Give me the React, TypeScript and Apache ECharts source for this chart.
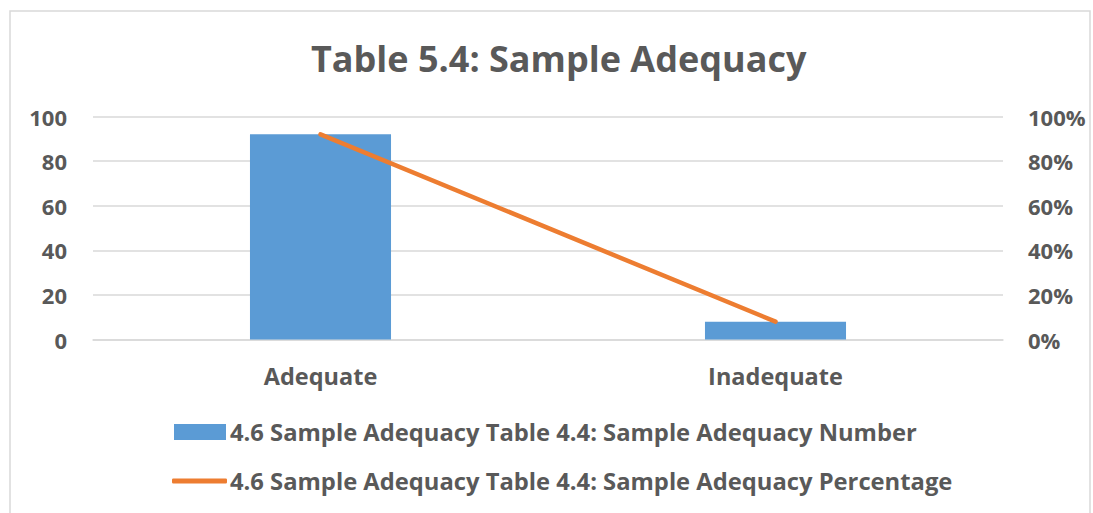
import React, { useEffect, useRef } from "react";
import * as echarts from "echarts";

const categories = ["Adequate", "Inadequate"];
const numberValues = [92, 8];
const percentageValues = [92, 8];
const leftTicks = [0, 20, 40, 60, 80, 100];
const seriesNames = [
  "4.6 Sample Adequacy Table 4.4: Sample Adequacy Number",
  "4.6 Sample Adequacy Table 4.4: Sample Adequacy Percentage",
];
const titleText = "Table 5.4: Sample Adequacy";

const FONT = "Open Sans";
const TXT = "#595959";

export default function App() {
  const ref = useRef<HTMLDivElement>(null);
  useEffect(() => {
    if (!ref.current) return;
    const chart = echarts.init(ref.current, null, { renderer: "svg" });
    chart.setOption({
      animation: false,
      backgroundColor: "#ffffff",
      textStyle: { fontFamily: FONT },
      title: {
        text: titleText,
        left: 306,
        top: 35,
        textStyle: { fontFamily: FONT, fontSize: 36, fontWeight: "bold", color: TXT },
      },
      graphic: [
        {
          type: "rect",
          shape: { x: 10, y: 11, width: 1080, height: 520 },
          style: { fill: "none", stroke: "#D9D9D9", lineWidth: 1.5 },
          silent: true,
        },
      ],
      grid: { left: 93, right: 90, top: 116.5, height: 223, containLabel: false },
      legend: [
        {
          data: [seriesNames[0]],
          left: 174,
          top: 420,
          padding: 0,
          itemWidth: 52,
          itemHeight: 16,
          icon: "rect",
          textStyle: { fontFamily: FONT, fontSize: 23.75, fontWeight: "bold", color: TXT, padding: [0, 0, 0, -1] },
        },
        {
          data: [seriesNames[1]],
          left: 172,
          top: 469,
          padding: 0,
          itemWidth: 55,
          itemHeight: 5,
          icon: "roundRect",
          textStyle: { fontFamily: FONT, fontSize: 23.75, fontWeight: "bold", color: TXT, padding: [0, 0, 0, -2] },
        },
      ],
      xAxis: {
        type: "category",
        data: categories,
        axisLine: { show: true, lineStyle: { color: "#D9D9D9", width: 1.5 } },
        axisTick: { show: false },
        axisLabel: { margin: 24, fontFamily: FONT, fontSize: 23.5, fontWeight: "bold", color: TXT },
      },
      yAxis: [
        {
          type: "value",
          min: 0,
          max: 100,
          interval: 20,
          axisLine: { show: false },
          axisTick: { show: false },
          splitLine: { lineStyle: { color: "#D9D9D9", width: 1.5 } },
          axisLabel: { margin: 26, fontFamily: FONT, fontSize: 22, fontWeight: "bold", color: TXT },
        },
        {
          type: "value",
          min: 0,
          max: 100,
          interval: 20,
          axisLine: { show: false },
          axisTick: { show: false },
          splitLine: { show: false },
          axisLabel: {
            margin: 25,
            fontFamily: FONT,
            fontSize: 22,
            fontWeight: "bold",
            color: TXT,
            formatter: (v: number) => v + "%",
          },
        },
      ],
      series: [
        {
          name: seriesNames[0],
          type: "bar",
          data: numberValues,
          barWidth: "31%",
          itemStyle: { color: "#5B9BD5" },
          yAxisIndex: 0,
        },
        {
          name: seriesNames[1],
          type: "line",
          data: percentageValues,
          yAxisIndex: 1,
          showSymbol: false,
          symbol: "none",
          itemStyle: { color: "#ED7D31" },
          lineStyle: { color: "#ED7D31", width: 4.5, cap: "round" },
        },
      ],
    });
    return () => chart.dispose();
  }, []);
  return (
    <div
      ref={ref}
      style={{ position: "fixed", left: 0, top: 0, width: 1093, height: 513 }}
    />
  );
}
